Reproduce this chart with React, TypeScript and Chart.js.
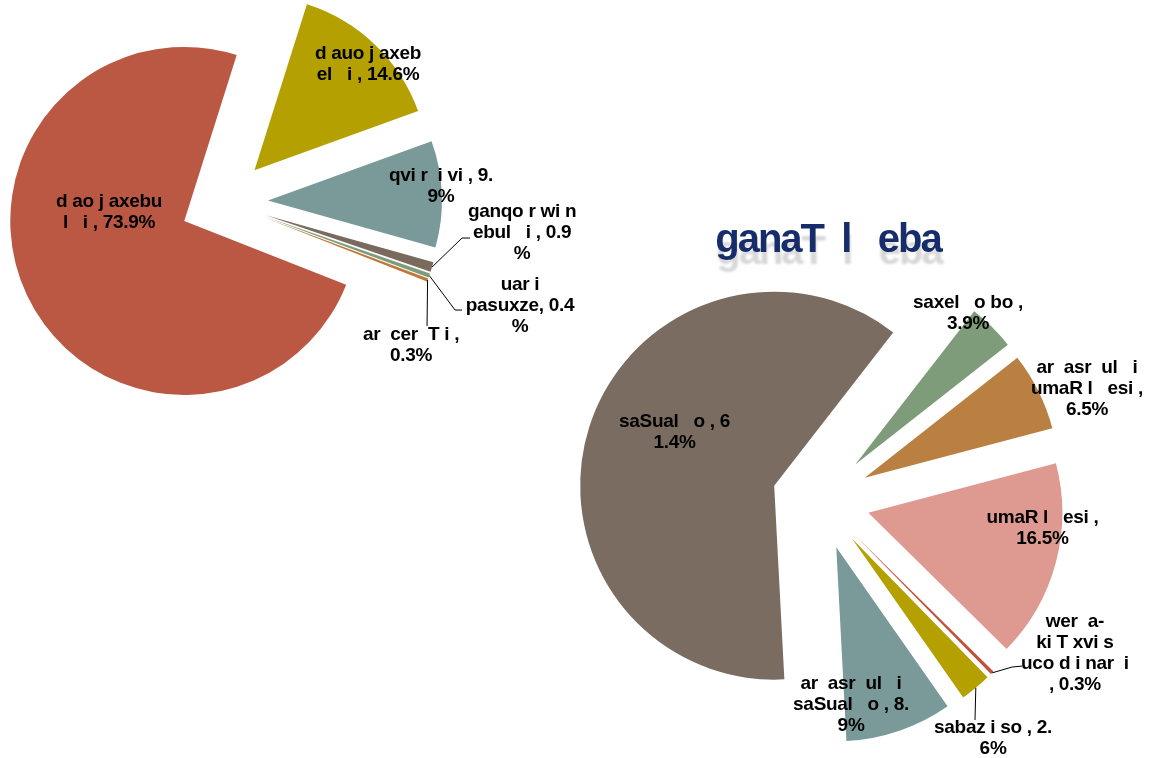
import React, { useEffect, useRef } from "react";
import { Chart, registerables } from "chart.js";

Chart.register(...registerables);

// ---------- Data: left pie (marital status) ----------
const maritalCategories = [
  "d ao j axebu|l   i ",
  "d auo j axeb|el   i ",
  "qvi r  i vi ",
  "ganqo r wi n|ebul   i ",
  "uar i|pasuxze",
  "ar  cer  T i ",
];
const maritalValues = [73.9, 14.6, 9.9, 0.9, 0.4, 0.3];
const maritalColors = ["#BA5843", "#B4A000", "#7A9A99", "#7A6A5E", "#7E9C7B", "#C0783A"];

// ---------- Data: right pie (education) ----------
const educationTitle = "ganaT  l   eba";
const educationCategories = [
  "saSual   o ",
  "saxel   o bo ",
  "ar  asr  ul   i|umaR l   esi ",
  "umaR l   esi ",
  "wer  a-|ki T xvi s|uco d i nar  i|",
  "sabaz i so ",
  "ar  asr  ul   i|saSual   o ",
];
const educationValues = [61.4, 3.9, 6.5, 16.5, 0.3, 2.6, 8.9];
const educationColors = ["#7A6C60", "#7E9B7A", "#B98042", "#DE9A91", "#C0503C", "#B4A000", "#7A9999"];

// ---------- Layout (label wrapping & placement, in radius units) ----------
const maritalValueSplit: (number | null)[] = [null, null, 2, 3, 3, 0];
const maritalLabelPos = [
  [-0.661, 0.06], [0.828, -0.793], [1.247, -0.092], [1.713, 0.178], [1.701, 0.598], [1.075, 0.825],
];
const maritalLeaders: any[] = [
  null, null, null,
  { elbow: [1.368, 0.207], end: [1.414, 0.207] },
  { elbow: [1.328, 0.621], end: [1.368, 0.621] },
  { end: [1.167, 0.713] },
];
const maritalExplode = [44, 44, 44, 44, 44, 44];

const educationValueSplit: (number | null)[] = [1, 0, 0, 0, null, 2, 2];
const educationLabelPos = [
  [-0.75, -0.348], [0.763, -0.961], [1.376, -0.575], [1.147, 0.147], [1.314, 0.789], [0.892, 1.227], [0.16, 1.057],
];
const educationLeaders: any[] = [
  null, null, null, null,
  { elbow: [0.99, 0.861], end: [1.041, 0.856] },
  { end: [0.799, 1.134] },
  null,
];
const educationExplode = [48, 50, 50, 50, 50, 50, 50];

function buildLines(name: string, value: number, split: number | null): string[] {
  const v = value.toFixed(1) + "%";
  let s = name + ",";
  if (split === null) s += " " + v;
  else if (split === 0) s += "|" + v;
  else s += " " + v.slice(0, split) + "|" + v.slice(split);
  return s.split("|").map((l) => l.trim());
}

const FONT = '"Liberation Sans", Arial, sans-serif';

const explodePlugin = {
  id: "explode",
  beforeDatasetDraw(chart: any, args: any, opts: any) {
    const ctx = chart.ctx;
    const dist: number[] = opts.distances || [];
    args.meta.data.forEach((arc: any, i: number) => {
      const mid = (arc.startAngle + arc.endAngle) / 2;
      const t = dist[i] || 0;
      ctx.save();
      ctx.translate(Math.cos(mid) * t, Math.sin(mid) * t);
      arc.draw(ctx);
      ctx.restore();
    });
    return false;
  },
};

const labelPlugin = {
  id: "pieLabels",
  afterDraw(chart: any, _args: any, opts: any) {
    const ctx = chart.ctx;
    const arcs = chart.getDatasetMeta(0).data;
    if (!arcs.length) return;
    const cx = arcs[0].x;
    const cy = arcs[0].y;
    const r = arcs[0].outerRadius;
    ctx.save();
    // leader lines
    ctx.strokeStyle = "#000";
    ctx.lineWidth = 1;
    (opts.leaders || []).forEach((ld: any, i: number) => {
      if (!ld) return;
      const arc = arcs[i];
      const mid = (arc.startAngle + arc.endAngle) / 2;
      const d = (opts.distances[i] || 0) + r;
      ctx.beginPath();
      ctx.moveTo(cx + Math.cos(mid) * d, cy + Math.sin(mid) * d);
      if (ld.elbow) ctx.lineTo(cx + ld.elbow[0] * r, cy + ld.elbow[1] * r);
      ctx.lineTo(cx + ld.end[0] * r, cy + ld.end[1] * r);
      ctx.stroke();
    });
    // labels
    ctx.fillStyle = "#000";
    ctx.font = `bold ${opts.fontSize}px ${FONT}`;
    ctx.textAlign = "center";
    ctx.textBaseline = "middle";
    (ctx as any).letterSpacing = opts.letterSpacing || "0px";
    const lh = opts.lineHeight;
    opts.texts.forEach((lines: string[], i: number) => {
      const p = opts.positions[i];
      const x = cx + p[0] * r;
      const y = cy + p[1] * r;
      lines.forEach((ln, k) => {
        ctx.fillText(ln, x, y + (k - (lines.length - 1) / 2) * lh);
      });
    });
    // title
    if (opts.title) {
      const tx = cx + opts.titlePos[0] * r;
      const ty = cy + opts.titlePos[1] * r;
      ctx.font = `bold 40px ${FONT}`;
      (ctx as any).letterSpacing = "-2px";
      ctx.save();
      ctx.globalAlpha = 0.35;
      ctx.fillStyle = "#8c8c8c";
      ctx.filter = "blur(1.2px)";
      ctx.fillText(opts.title, tx + 1, ty + 12);
      ctx.restore();
      ctx.fillStyle = "#172D6B";
      ctx.fillText(opts.title, tx, ty);
    }
    ctx.restore();
  },
};

function makeConfig(
  values: number[],
  categories: string[],
  colors: string[],
  radius: number,
  rotation: number,
  padding: any,
  distances: number[],
  texts: string[][],
  positions: number[][],
  leaders: any[],
  title?: string,
  titlePos?: number[]
): any {
  return {
    type: "pie",
    data: {
      labels: categories.map((c) => c.replace(/\|/g, " ")),
      datasets: [
        {
          data: values,
          backgroundColor: colors,
          borderWidth: 0,
          radius,
        },
      ],
    },
    options: {
      responsive: false,
      animation: false,
      events: [],
      rotation,
      layout: { padding },
      plugins: {
        legend: { display: false },
        tooltip: { enabled: false },
        explode: { distances },
        pieLabels: {
          distances,
          texts,
          positions,
          leaders,
          fontSize: 19,
          lineHeight: 21,
          letterSpacing: "-0.3px",
          title,
          titlePos,
        },
      },
    },
    plugins: [explodePlugin, labelPlugin],
  };
}

export default function App() {
  const leftRef = useRef<HTMLCanvasElement>(null);
  const rightRef = useRef<HTMLCanvasElement>(null);

  useEffect(() => {
    const maritalTexts = maritalCategories.map((c, i) => buildLines(c, maritalValues[i], maritalValueSplit[i]));
    const educationTexts = educationCategories.map((c, i) => buildLines(c, educationValues[i], educationValueSplit[i]));
    const left = new Chart(
      leftRef.current as HTMLCanvasElement,
      makeConfig(
        maritalValues,
        maritalCategories,
        maritalColors,
        174,
        111.5,
        { left: 0, top: 0, right: 701, bottom: 354 },
        maritalExplode,
        maritalTexts,
        maritalLabelPos,
        maritalLeaders
      )
    );
    const right = new Chart(
      rightRef.current as HTMLCanvasElement,
      makeConfig(
        educationValues,
        educationCategories,
        educationColors,
        194,
        177,
        { left: 491, top: 242, right: 0, bottom: 0 },
        educationExplode,
        educationTexts,
        educationLabelPos,
        educationLeaders,
        educationTitle,
        [0.041, -1.335]
      )
    );
    return () => {
      left.destroy();
      right.destroy();
    };
  }, []);

  const canvasStyle: React.CSSProperties = { position: "absolute", left: 0, top: 0, width: 1149, height: 758 };
  return (
    <div style={{ position: "fixed", left: 0, top: 0, width: 1149, height: 758, background: "#fff", overflow: "hidden" }}>
      <canvas ref={leftRef} width={1149} height={758} style={canvasStyle} />
      <canvas ref={rightRef} width={1149} height={758} style={canvasStyle} />
    </div>
  );
}
